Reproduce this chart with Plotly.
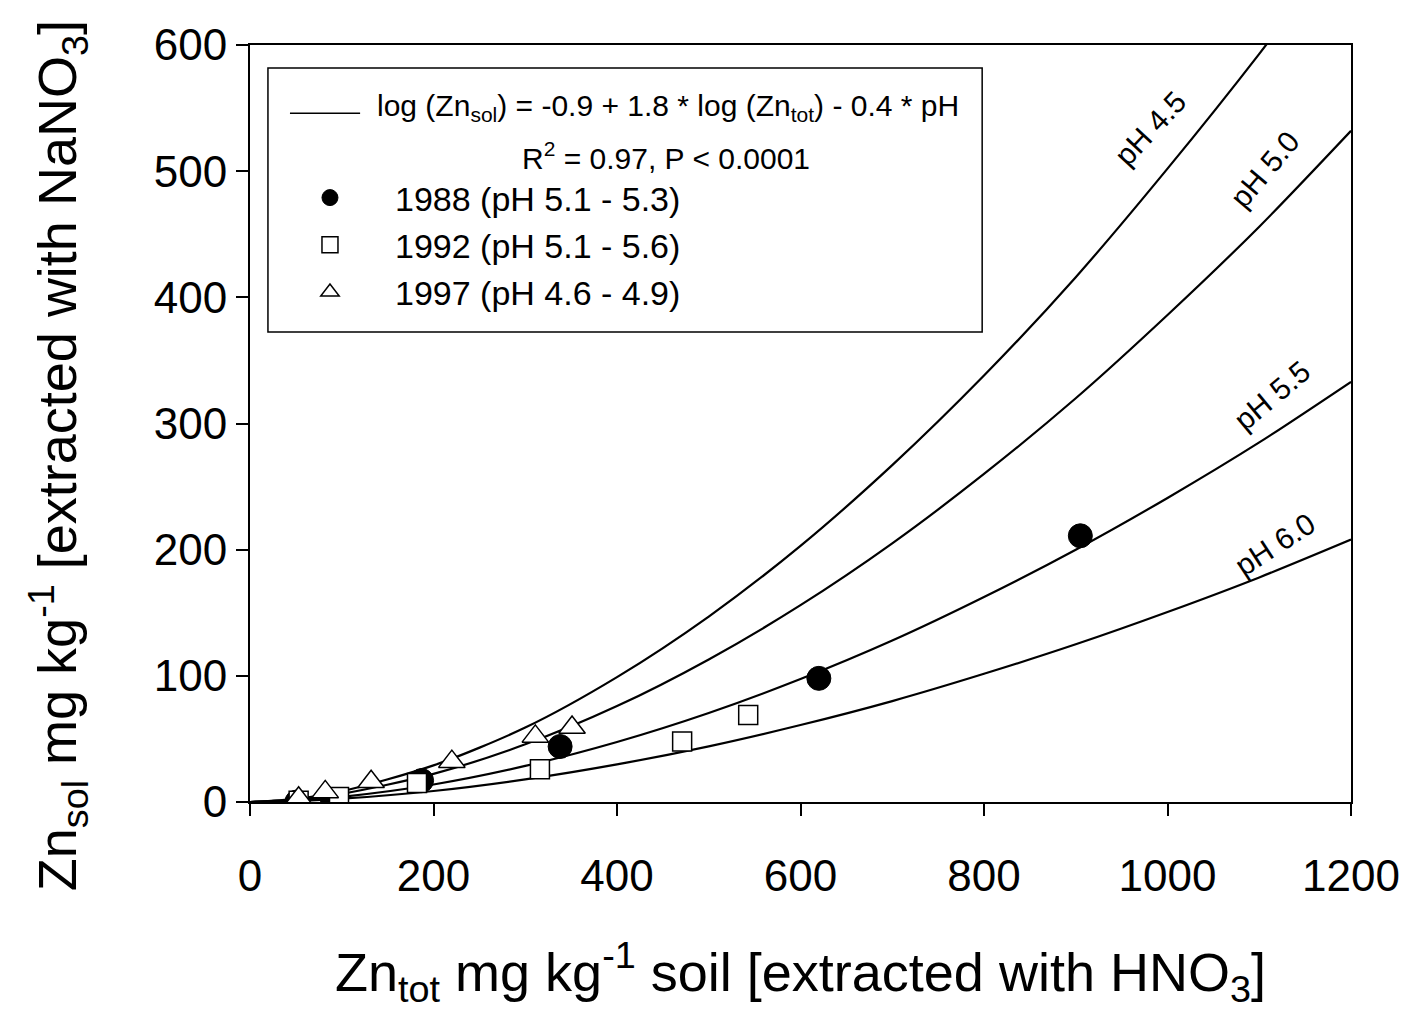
import plotly.graph_objects as go

# ---- data ----
zn_tot_grid = [0, 50, 100, 200, 300, 400, 500, 600, 700, 800, 900, 1000, 1100, 1200]
curve_ph45 = [0, 2.5, 8.5, 29, 59, 99, 147, 203, 267, 338, 416, 502, 593, 690]
curve_ph50 = [0, 1.9, 6.5, 22.3, 45.7, 76, 113, 156, 205, 260, 320, 386, 456, 532]
curve_ph55 = [0, 1.2, 4.1, 13.9, 28.6, 47.6, 70.6, 97.5, 128, 162.5, 200, 241, 285, 333]
curve_ph60 = [0, 0.75, 2.6, 8.7, 17.9, 29.8, 44.1, 61, 80, 101.6, 125, 150.6, 178, 208]

x1988 = [51, 90, 187, 338, 620, 905]
y1988 = [0, 1, 17, 44, 98, 211]
x1992 = [53, 97, 182, 316, 471, 543]
y1992 = [1, 4, 15, 26, 48, 69]
x1997 = [53, 82, 132, 220, 311, 351]
y1997 = [3, 8, 16, 32, 52, 59]

curve_labels = ["pH 4.5", "pH 5.0", "pH 5.5", "pH 6.0"]
label_x = [981, 1106, 1114, 1117]
label_y = [534, 501, 322, 204]
label_angle = [-47, -50, -40, -33]

x_ticks = [0, 200, 400, 600, 800, 1000, 1200]
y_ticks = [0, 100, 200, 300, 400, 500, 600]

FONT = "Liberation Sans, Arial, sans-serif"

fig = go.Figure()

for ys in [curve_ph45, curve_ph50, curve_ph55, curve_ph60]:
    fig.add_trace(go.Scatter(x=zn_tot_grid, y=ys, mode="lines",
                             line=dict(color="black", width=2.2, shape="spline", smoothing=0.8),
                             showlegend=False, hoverinfo="skip"))

fig.add_trace(go.Scatter(x=x1988, y=y1988, mode="markers", name="1988 (pH 5.1 - 5.3)",
                         legendgroup="a",
                         marker=dict(symbol="circle", size=24, color="black",
                                     line=dict(color="black", width=1))))
fig.add_trace(go.Scatter(x=x1992, y=y1992, mode="markers", name="1992 (pH 5.1 - 5.6)",
                         legendgroup="b",
                         marker=dict(symbol="square", size=19, color="white",
                                     line=dict(color="black", width=1.5))))
fig.add_trace(go.Scatter(x=x1997, y=y1997, mode="markers", name="1997 (pH 4.6 - 4.9)",
                         legendgroup="c",
                         marker=dict(symbol="triangle-up", size=23, color="white",
                                     line=dict(color="black", width=1.5))))

annotations = []
for t, lx, ly, ang in zip(curve_labels, label_x, label_y, label_angle):
    annotations.append(dict(x=lx, y=ly, xref="x", yref="y", text=t, showarrow=False,
                            textangle=ang, font=dict(family=FONT, size=30, color="black")))

annotations.append(dict(x=0.1135, y=0.9168, xref="paper", yref="paper", xanchor="left", yanchor="middle",
                        text="log (Zn<sub>sol</sub>) = -0.9 + 1.8 * log (Zn<sub>tot</sub>) - 0.4 * pH",
                        showarrow=False, font=dict(family=FONT, size=30, color="black")))
annotations.append(dict(x=0.378, y=0.854, xref="paper", yref="paper", xanchor="center", yanchor="middle",
                        text="R<sup>2</sup> = 0.97, P < 0.0001",
                        showarrow=False, font=dict(family=FONT, size=30, color="black")))
annotations.append(dict(x=-0.1744, y=0.458, xref="paper", yref="paper", xanchor="center", yanchor="middle",
                        text="Zn<sub>sol</sub> mg kg<sup>-1</sup> [extracted with NaNO<sub>3</sub>]",
                        textangle=-90, showarrow=False, font=dict(family=FONT, size=54, color="black")))

shapes = [
    dict(type="rect", xref="paper", yref="paper", x0=0.0163, x1=0.665, y0=0.621, y1=0.9696,
         line=dict(color="black", width=1.5), fillcolor="rgba(0,0,0,0)"),
    dict(type="line", xref="paper", yref="paper", x0=0.0363, x1=0.1, y0=0.910, y1=0.910,
         line=dict(color="black", width=1.5)),
]

fig.update_layout(
    width=1411, height=1011,
    margin=dict(l=250, r=60, t=45, b=209),
    plot_bgcolor="white", paper_bgcolor="white",
    annotations=annotations, shapes=shapes,
    legend=dict(x=0.0136, y=0.8362, xanchor="left", yanchor="top",
                bgcolor="rgba(0,0,0,0)", borderwidth=0,
                font=dict(family=FONT, size=34, color="black"),
                tracegroupgap=0, itemwidth=120),
    xaxis=dict(range=[0, 1200], tickvals=x_ticks, ticktext=[str(v) for v in x_ticks],
               ticks="outside", ticklen=12, tickwidth=1.5, tickcolor="black",
               showline=True, linewidth=2, linecolor="black", mirror=True,
               showgrid=False, zeroline=False, ticklabelstandoff=22,
               tickfont=dict(family=FONT, size=44, color="black"),
               title=dict(text="Zn<sub>tot</sub> mg kg<sup>-1</sup> soil [extracted with HNO<sub>3</sub>]",
                          font=dict(family=FONT, size=54, color="black"), standoff=54)),
    yaxis=dict(range=[0, 600], tickvals=y_ticks, ticktext=[str(v) for v in y_ticks],
               ticks="outside", ticklen=12, tickwidth=1.5, tickcolor="black",
               showline=True, linewidth=2, linecolor="black", mirror=True,
               showgrid=False, zeroline=False,
               tickfont=dict(family=FONT, size=44, color="black")),
)

fig.write_html("out.html")
